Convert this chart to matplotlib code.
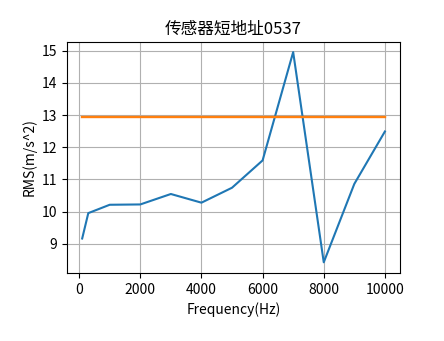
import matplotlib
matplotlib.use("Agg")
import matplotlib.pyplot as plt

plt.rcParams['font.family'] = ['Noto Sans CJK SC', 'DejaVu Sans']
plt.rcParams['axes.unicode_minus'] = False

freq = [100, 300, 1000, 2000, 3000, 4000, 5000, 6000, 7000, 8000, 9000, 10000]
rms = [9.16, 9.95, 10.21, 10.22, 10.545, 10.275, 10.74, 11.59, 14.96, 8.42, 10.86, 12.49]
threshold = 12.94
thr_x = [100, 10000]

fig = plt.figure(figsize=(4.44, 3.41), dpi=100)
ax = fig.add_axes([0.151, 0.200, 0.750, 0.678])
ax.plot(freq, rms, color='#1f77b4', lw=1.5)
ax.plot(thr_x, [threshold, threshold], color='#ff7f0e', lw=1.7)
ax.grid(True, color='#b0b0b0', lw=0.8)
ax.set_title('传感器短地址0537', fontsize=12)
ax.set_xlabel('Frequency(Hz)', fontsize=10)
ax.set_ylabel('RMS(m/s^2)', fontsize=10)
ax.set_xticks([0, 2000, 4000, 6000, 8000, 10000])
ax.set_yticks([9, 10, 11, 12, 13, 14, 15])
fig.savefig('out.png', dpi=100)
